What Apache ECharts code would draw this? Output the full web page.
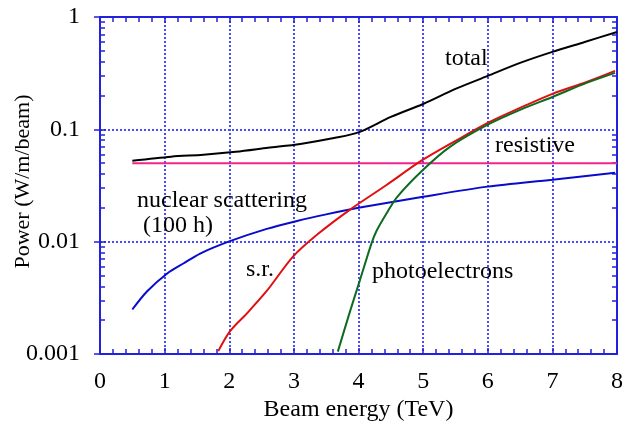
<!DOCTYPE html>
<html>
<head>
<meta charset="utf-8">
<script src="https://cdn.jsdelivr.net/npm/echarts@6/dist/echarts.min.js"></script>
<style>html,body{margin:0;padding:0;background:#fff}#c{width:623px;height:428px}</style>
</head>
<body>
<div id="c"></div>
<script>
const totalX = [0.5, 1.1, 1.6, 2.1, 2.6, 3.1, 3.64, 4.02, 4.5, 5.0, 5.5, 6.0, 6.5, 7.0, 7.5, 8.0];
const totalY = [0.0525, 0.0571, 0.0594, 0.0631, 0.0685, 0.0742, 0.084, 0.095, 0.129, 0.168, 0.229, 0.299, 0.39, 0.489, 0.599, 0.736];
const resistiveX = [0.5, 8.0];
const resistiveY = [0.05, 0.05];
const nuclearX = [0.5, 0.73, 1.04, 1.29, 1.55, 2.01, 2.58, 3.05, 3.5, 4.0, 5.0, 6.0, 7.0, 7.97];
const nuclearY = [0.00249, 0.00362, 0.00521, 0.00639, 0.00784, 0.0101, 0.013, 0.0153, 0.0175, 0.0200, 0.0251, 0.0309, 0.0356, 0.0411];
const srX = [1.83, 2.01, 2.27, 2.58, 2.99, 3.38, 3.87, 4.44, 4.95, 5.53, 6.0, 6.5, 7.0, 7.53, 7.97];
const srY = [0.00106, 0.00159, 0.00229, 0.00364, 0.0074, 0.0118, 0.0193, 0.0321, 0.0515, 0.0806, 0.114, 0.155, 0.207, 0.264, 0.331];
const photoX = [3.68, 3.87, 4.02, 4.2, 4.28, 4.44, 4.6, 5.0, 5.42, 6.0, 6.5, 7.0, 7.53, 7.97];
const photoY = [0.00105, 0.00241, 0.0045, 0.0096, 0.0125, 0.0181, 0.0251, 0.0437, 0.0702, 0.11, 0.149, 0.194, 0.259, 0.318];
const yMinorTicks = [0.002,0.003,0.004,0.005,0.006,0.007,0.008,0.009,0.02,0.03,0.04,0.05,0.06,0.07,0.08,0.09,0.2,0.3,0.4,0.5,0.6,0.7,0.8,0.9];
const xTicks = [0,1,2,3,4,5,6,7,8];
const yTicks = ['0.001','0.01','0.1','1'];

const zip = (xs, ys) => xs.map((x, i) => [x, ys[i]]);
const FONT = 'Liberation Serif';
const FS = 24;
const BLUE = '#2222dd';
const GRIDC = '#4a4aff';

const chart = echarts.init(document.getElementById('c'), null, {renderer: 'canvas'});
const baseX = {
  type: 'value', min: 0, max: 8, interval: 1,
  axisLine: {show: true, lineStyle: {color: BLUE, width: 2}},
  axisTick: {show: true, inside: true, length: 6, lineStyle: {color: BLUE, width: 1.5}},
  minorTick: {show: true, splitNumber: 5, length: 5, lineStyle: {color: BLUE, width: 1.5}},
  splitLine: {show: false}
};
const baseY = {
  type: 'log', logBase: 10, min: 0.001, max: 1,
  axisLine: {show: true, lineStyle: {color: BLUE, width: 2}},
  axisTick: {show: true, inside: true, length: 6, lineStyle: {color: BLUE, width: 1.5}},
  splitLine: {show: false}
};
const lineS = (name, xs, ys, color) => ({
  name, type: 'line', data: zip(xs, ys), showSymbol: false, symbol: 'none', smooth: 0.3,
  xAxisIndex: 0, yAxisIndex: 0,
  lineStyle: {color, width: 2}, z: 3
});
const txt = (text, x, y) => ({type: 'text', x, y, style: {text, font: FS + 'px "Liberation Serif"', fill: '#000', verticalAlign: 'middle', align: 'left'}, z: 10});
chart.setOption({
  animation: false,
  grid: {left: 100, right: 6, top: 17, bottom: 74, containLabel: false, outerBoundsMode: 'none'},
  xAxis: [
    Object.assign({}, baseX, {
      position: 'bottom',
      name: 'Beam energy (TeV)', nameLocation: 'middle', nameGap: 44, nameMoveOverlap: false,
      nameTextStyle: {fontFamily: FONT, fontSize: FS, color: '#000'},
      axisLabel: {show: true, fontFamily: FONT, fontSize: FS, color: '#000', margin: 16,
        formatter: v => String(xTicks[Math.round(v)])},
      splitLine: {show: true, lineStyle: {color: GRIDC, type: [2, 2], width: 2}}
    }),
    Object.assign({}, baseX, {position: 'top', axisLabel: {show: false}})
  ],
  yAxis: [
    Object.assign({}, baseY, {
      position: 'left',
      name: 'Power (W/m/beam)', nameLocation: 'middle', nameGap: 66, nameRotate: 90, nameMoveOverlap: false,
      nameTextStyle: {fontFamily: FONT, fontSize: 22, color: '#000', padding: [0, 0, 0, 8]},
      axisLabel: {show: true, fontFamily: FONT, fontSize: FS, color: '#000', margin: 20,
        formatter: v => yTicks[Math.round(Math.log10(v)) + 3]},
      splitLine: {show: true, lineStyle: {color: GRIDC, type: [2, 2], width: 2}}
    }),
    Object.assign({}, baseY, {position: 'right', axisLabel: {show: false}}),
    Object.assign({}, baseY, {position: 'left', axisLabel: {show: false},
      axisTick: {show: true, inside: true, length: 5, customValues: yMinorTicks, lineStyle: {color: BLUE, width: 1.5}}}),
    Object.assign({}, baseY, {position: 'right', axisLabel: {show: false},
      axisTick: {show: true, inside: true, length: 5, customValues: yMinorTicks, lineStyle: {color: BLUE, width: 1.5}}})
  ],
  series: [
    lineS('resistive', resistiveX, resistiveY, '#f0248c'),
    lineS('nuclear scattering', nuclearX, nuclearY, '#0a0acc'),
    lineS('s.r.', srX, srY, '#e01010'),
    lineS('photoelectrons', photoX, photoY, '#0d6b21'),
    lineS('total', totalX, totalY, '#000000')
  ],
  graphic: [
    txt('total', 445, 59),
    txt('resistive', 495, 146),
    txt('nuclear scattering', 137, 201),
    txt('(100 h)', 143, 226),
    txt('s.r.', 246, 270),
    txt('photoelectrons', 372, 272)
  ]
});
</script>
</body>
</html>
